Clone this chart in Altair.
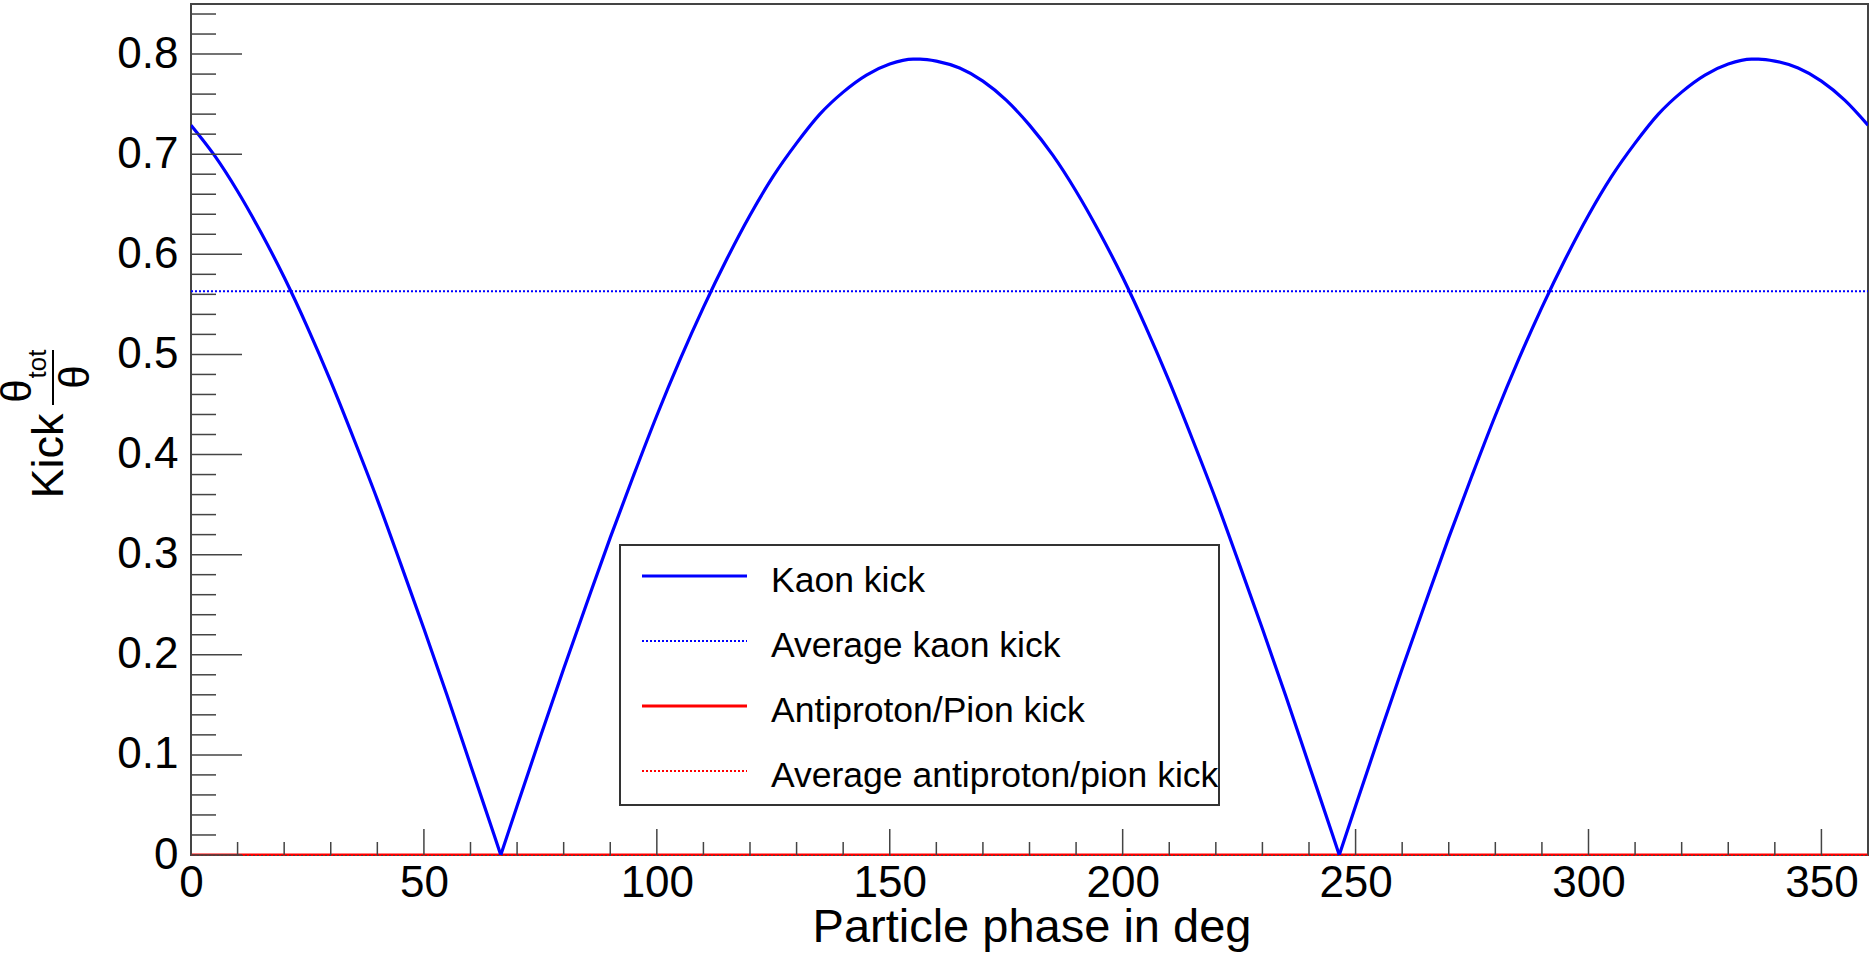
import altair as alt
import pandas as pd

# ---- data ----
phase = [0, 5, 10, 15, 20, 25, 30, 35, 40, 45, 50, 55, 60, 65, 66.5, 70, 75, 80, 85, 90,
         95, 100, 105, 110, 115, 120, 125, 130, 135, 140, 145, 150, 155, 156.5, 160, 165, 170, 175,
         180, 185, 190, 195, 200, 205, 210, 215, 220, 225, 230, 235, 240, 245, 246.5, 250, 255, 260, 265, 270,
         275, 280, 285, 290, 295, 300, 305, 310, 315, 320, 325, 330, 335, 336.5, 340, 345, 350, 355, 360]
kaon_kick = [0.729, 0.699, 0.663, 0.622, 0.577, 0.527, 0.473, 0.415, 0.355, 0.291, 0.226, 0.159, 0.090, 0.021, 0.0,
             0.049, 0.118, 0.186, 0.252, 0.317, 0.379, 0.439, 0.495, 0.547, 0.595, 0.639, 0.678, 0.711, 0.740,
             0.762, 0.779, 0.790, 0.795, 0.795, 0.793, 0.786, 0.773, 0.754,
             0.729, 0.699, 0.663, 0.622, 0.577, 0.527, 0.473, 0.415, 0.355, 0.291, 0.226, 0.159, 0.090, 0.021, 0.0,
             0.049, 0.118, 0.186, 0.252, 0.317, 0.379, 0.439, 0.495, 0.547, 0.595, 0.639, 0.678, 0.711, 0.740,
             0.762, 0.779, 0.790, 0.795, 0.795, 0.793, 0.786, 0.773, 0.754, 0.729]
pion_kick = [0.0] * len(phase)
kaon_minima = [66.5, 246.5]
avg_kaon = 0.563
avg_pion = 0.0
x_range = [0, 360]
y_range = [0, 0.85]

x_major = [0, 50, 100, 150, 200, 250, 300, 350]
x_minor = [v for v in range(0, 361, 10) if v % 50 != 0]
y_major = [0.0, 0.1, 0.2, 0.3, 0.4, 0.5, 0.6, 0.7, 0.8]
y_minor = [round(i * 0.02, 2) for i in range(0, 43) if i % 5 != 0]

legend_labels = ["Kaon kick", "Average kaon kick", "Antiproton/Pion kick", "Average antiproton/pion kick"]
legend_colors = ["#0000ff", "#0000ff", "#ff0000", "#ff0000"]
legend_dotted = [False, True, False, True]

x_title = "Particle phase in deg"

# ---- layout ----
W, H = 1677, 851
FONT = "Liberation Sans"
TICK = "#444444"

# split the kaon curve at its sharp minima so each arch can be smoothed
rows = []
for p, k in zip(phase, kaon_kick):
    seg = sum(1 for m in kaon_minima if p > m)
    rows.append({"phase": p, "kaon": k, "seg": seg})
    if p in kaon_minima:
        rows.append({"phase": p, "kaon": k, "seg": seg + 1})
kdf = pd.DataFrame(rows)
df = pd.DataFrame({"phase": phase, "pion": pion_kick})
avg_df = pd.DataFrame({"x": [x_range[0]], "x2": [x_range[1]], "ka": [avg_kaon], "pa": [avg_pion]})
one = pd.DataFrame({"d": [0]})

xs = alt.Scale(domain=x_range, nice=False, zero=False)
ys = alt.Scale(domain=y_range, nice=False)

xaxis = alt.Axis(values=x_major, ticks=False, tickSize=0, domain=False, grid=False, labelFont=FONT,
                 labelFontSize=44, labelColor="black", labelPadding=6, title=None, labelFlush=False)
yaxis = alt.Axis(values=y_major, ticks=False, tickSize=0, domain=False, grid=False, labelFont=FONT,
                 labelFontSize=44, labelColor="black", labelPadding=13, title=None,
                 format="~g", labelFlush=False)

pion_line = alt.Chart(df).mark_line(color="#ff0000", strokeWidth=3, clip=True).encode(
    x=alt.X("phase:Q", scale=xs, axis=xaxis), y=alt.Y("pion:Q", scale=ys, axis=yaxis))
kaon_line = alt.Chart(kdf).mark_line(color="#0000ff", strokeWidth=3.2, clip=True,
                                     interpolate="monotone").encode(
    x=alt.X("phase:Q", scale=xs), y=alt.Y("kaon:Q", scale=ys), detail="seg:N")

avg_k = alt.Chart(avg_df).mark_rule(color="#0000ff", strokeWidth=2, strokeDash=[2, 2]).encode(
    x=alt.X("x:Q", scale=xs), x2="x2:Q", y=alt.Y("ka:Q", scale=ys))
avg_p = alt.Chart(avg_df).mark_rule(color="#ff0000", strokeWidth=2, strokeDash=[2, 2]).encode(
    x=alt.X("x:Q", scale=xs), x2="x2:Q", y=alt.Y("pa:Q", scale=ys))

# inward ticks
xmaj = alt.Chart(pd.DataFrame({"v": x_major})).mark_rule(color=TICK, strokeWidth=1.5).encode(
    x=alt.X("v:Q", scale=xs), y=alt.value(H), y2=alt.value(H - 26))
xmin = alt.Chart(pd.DataFrame({"v": x_minor})).mark_rule(color=TICK, strokeWidth=1.5).encode(
    x=alt.X("v:Q", scale=xs), y=alt.value(H), y2=alt.value(H - 13))
ymaj = alt.Chart(pd.DataFrame({"v": y_major})).mark_rule(color=TICK, strokeWidth=1.5).encode(
    y=alt.Y("v:Q", scale=ys), x=alt.value(0), x2=alt.value(51))
ymin = alt.Chart(pd.DataFrame({"v": y_minor})).mark_rule(color=TICK, strokeWidth=1.5).encode(
    y=alt.Y("v:Q", scale=ys), x=alt.value(0), x2=alt.value(25))

# legend (drawn by hand, ROOT style)
LX0, LX1, LY0, LY1 = 429, 1028, 541, 801
leg_layers = [alt.Chart(one).mark_rect(fill="white", stroke="#333333", strokeWidth=2).encode(
    x=alt.value(LX0), x2=alt.value(LX1), y=alt.value(LY0), y2=alt.value(LY1))]
row_h = (LY1 - LY0) / len(legend_labels)
for i, (lab, col, dot) in enumerate(zip(legend_labels, legend_colors, legend_dotted)):
    yc = LY0 + row_h * (i + 0.5) - 1.5
    kw = dict(strokeDash=[2, 2], strokeWidth=2) if dot else dict(strokeWidth=3)
    leg_layers.append(alt.Chart(one).mark_rule(color=col, **kw).encode(
        x=alt.value(451), x2=alt.value(556), y=alt.value(yc)))
    leg_layers.append(alt.Chart(one).mark_text(align="left", baseline="alphabetic", font=FONT,
                                               fontSize=35.5, color="black").encode(
        x=alt.value(580), y=alt.value(yc + 16), text=alt.value(lab)))

# axis titles
xt = alt.Chart(one).mark_text(align="center", baseline="alphabetic", font=FONT, fontSize=47,
                              color="black").encode(x=alt.value(841), y=alt.value(938), text=alt.value(x_title))
yt_kick = alt.Chart(one).mark_text(align="center", baseline="middle", font=FONT, fontSize=45, angle=270,
                                   color="black").encode(x=alt.value(-142), y=alt.value(452), text=alt.value("Kick"))
yt_num = alt.Chart(one).mark_text(align="center", baseline="middle", font=FONT, fontSize=42, angle=270,
                                  color="black").encode(x=alt.value(-173), y=alt.value(387), text=alt.value("θ"))
yt_sub = alt.Chart(one).mark_text(align="center", baseline="middle", font=FONT, fontSize=26, angle=270,
                                  color="black").encode(x=alt.value(-153), y=alt.value(360), text=alt.value("tot"))
yt_bar = alt.Chart(one).mark_rule(color="black", strokeWidth=2).encode(
    x=alt.value(-138), y=alt.value(346), y2=alt.value(401))
yt_den = alt.Chart(one).mark_text(align="center", baseline="middle", font=FONT, fontSize=42, angle=270,
                                  color="black").encode(x=alt.value(-115), y=alt.value(373), text=alt.value("θ"))

chart = alt.layer(
    pion_line, avg_p, avg_k, kaon_line, xmaj, xmin, ymaj, ymin, *leg_layers,
    xt, yt_kick, yt_num, yt_sub, yt_bar, yt_den
).properties(
    width=W, height=H, autosize=alt.AutoSizeParams(type="none"),
    padding={"left": 191, "top": 4, "right": 1, "bottom": 100}, background="white"
).configure_view(stroke="#444444", strokeWidth=2)

chart.save("out.html", embed_options={"renderer": "svg", "actions": False})
